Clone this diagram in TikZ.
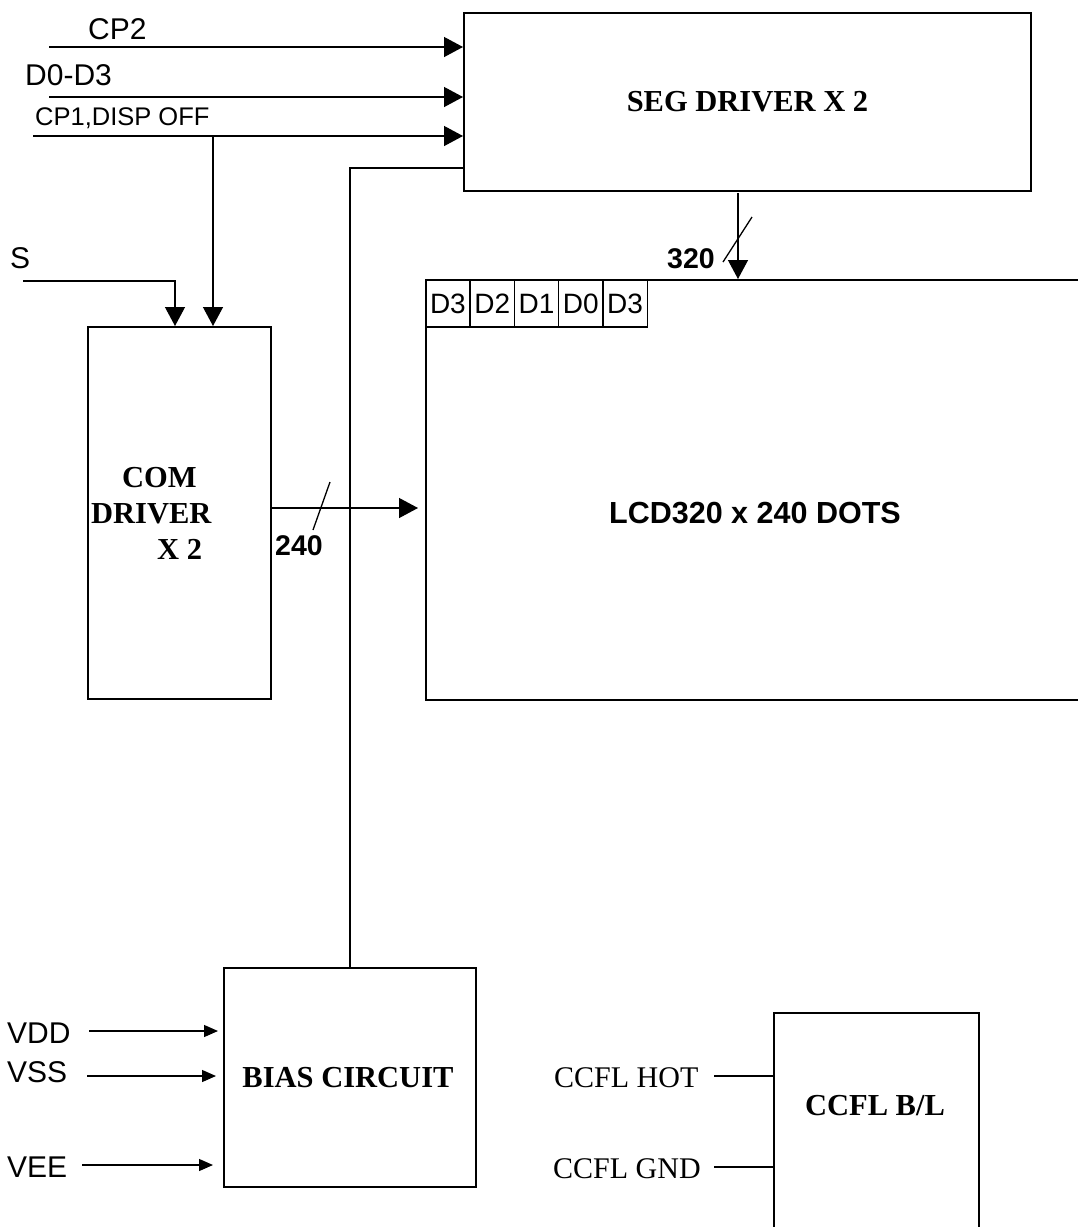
\documentclass[tikz,border=0pt]{standalone}
\usepackage{fontspec}
\setmainfont{Liberation Serif}
\setsansfont{Liberation Sans}
\usetikzlibrary{positioning,calc,arrows.meta}

\tikzset{
  box/.style={draw, line width=2pt, inner sep=0pt, anchor=north west},
  wire/.style={line width=1.3pt},
  bigarrow/.style={wire, -{Triangle[length=19pt,width=20pt]}},
  smallarrow/.style={wire, -{Triangle[length=14pt,width=12pt]}},
  sig/.style={inner sep=0pt, anchor=base west, font=\sffamily\fontsize{30}{32}\selectfont},
  buslbl/.style={inner sep=0pt, anchor=base west, font=\sffamily\bfseries\fontsize{28.5}{30}\selectfont},
  blocktxt/.style={inner sep=0pt, anchor=base, font=\bfseries\fontsize{30.5}{36}\selectfont},
  cell/.style={draw, line width=1.5pt, minimum width=44.3pt, minimum height=47pt, inner sep=0pt,
    text height=20pt, text depth=0pt, anchor=north west, font=\sffamily\fontsize{28}{30}\selectfont}
}

\begin{document}
\begin{tikzpicture}[x=1pt,y=-1pt]
\useasboundingbox (0,0) rectangle (1077,1227);

% blocks
\node[box, minimum width=567pt, minimum height=178pt, font=\bfseries\fontsize{30.5}{34}\selectfont] (seg) at (463,12) {SEG DRIVER X 2};
\node[box, minimum width=183pt, minimum height=372pt] (com) at (87,326) {};
\node[box, minimum width=670pt, minimum height=420pt] (lcd) at (425,279) {};
\node[box, minimum width=252pt, minimum height=219pt] (bias) at (223,967) {};
\node[box, minimum width=205pt, minimum height=240pt] (ccfl) at (773,1012) {};

\foreach \d [count=\i from 0] in {D3,D2,D1,D0,D3}
  \node[cell] (cell\i) at (425+\i*44.3,279) {\d};

\node[blocktxt, anchor=north west, align=left] (comtxt) at (91,467) {\hspace*{31pt}COM\\DRIVER\\\hspace*{66pt}X 2};
\node[blocktxt, font=\sffamily\bfseries\fontsize{30.5}{34}\selectfont] (lcdtxt) at (755,523) {LCD320 x 240 DOTS};
\node[blocktxt] (biastxt) at (348,1087) {BIAS CIRCUIT};
\node[blocktxt] (ccfltxt) at (875,1115) {CCFL B/L};

% signal names
\node[sig] (cp2lbl) at (88,39) {CP2};
\node[sig] (dlbl) at (25,85) {D0-D3};
\node[sig, font=\sffamily\fontsize{25.5}{28}\selectfont] (cp1lbl) at (35,125) {CP1,DISP OFF};
\node[sig] (slbl) at (10,268) {S};
\node[sig] (vddlbl) at (7,1043) {VDD};
\node[sig] (vsslbl) at (7,1082) {VSS};
\node[sig] (veelbl) at (7,1177) {VEE};
\node[sig, font=\fontsize{30}{34}\selectfont] (hotlbl) at (554,1087) {CCFL HOT};
\node[sig, font=\fontsize{30}{34}\selectfont] (gndlbl) at (553,1178) {CCFL GND};
\node[buslbl] (comwidth) at (275,555) {240};
\node[buslbl] (segwidth) at (667,268) {320};

\coordinate (cp2in) at (49,47);
\coordinate (din) at (49,97);
\coordinate (cp1in) at (33,136);
\coordinate (cp1tap) at (213,136);
\coordinate (sin) at (23,281);
\coordinate (segtap) at (463,168);
\coordinate (lcdin) at (418,508);
\coordinate (segout) at (738,193);
\coordinate (vddin) at (89,1031);
\coordinate (vssin) at (87,1076);
\coordinate (veein) at (82,1165);
\coordinate (hotin) at (714,1076);
\coordinate (gndin) at (714,1167);

% inputs to the drivers
\draw[bigarrow] (cp2in) -- (cp2in -| seg.west);
\draw[bigarrow] (din) -- (din -| seg.west);
\draw[bigarrow] (cp1in) -- (cp1in -| seg.west);
\draw[bigarrow] (cp1tap) -- (cp1tap |- com.north);
\draw[bigarrow] (sin) -| ([xshift=-4.5pt]com.north);
\draw[wire] (bias.north) |- (segtap);

% buses to the panel
\draw[bigarrow] (com.east |- lcdin) -- (lcdin);
\draw[wire] (330,482) -- (313,530);
\draw[bigarrow] (segout) -- (segout |- lcd.north);
\draw[wire] (752,217) -- (723,262);

% supplies
\draw[smallarrow, shorten >=5pt] (vddin) -- (vddin -| bias.west);
\draw[smallarrow, shorten >=7pt] (vssin) -- (vssin -| bias.west);
\draw[smallarrow, shorten >=10pt] (veein) -- (veein -| bias.west);
\draw[wire] (hotin) -- (hotin -| ccfl.west);
\draw[wire] (gndin) -- (gndin -| ccfl.west);
\end{tikzpicture}
\end{document}
